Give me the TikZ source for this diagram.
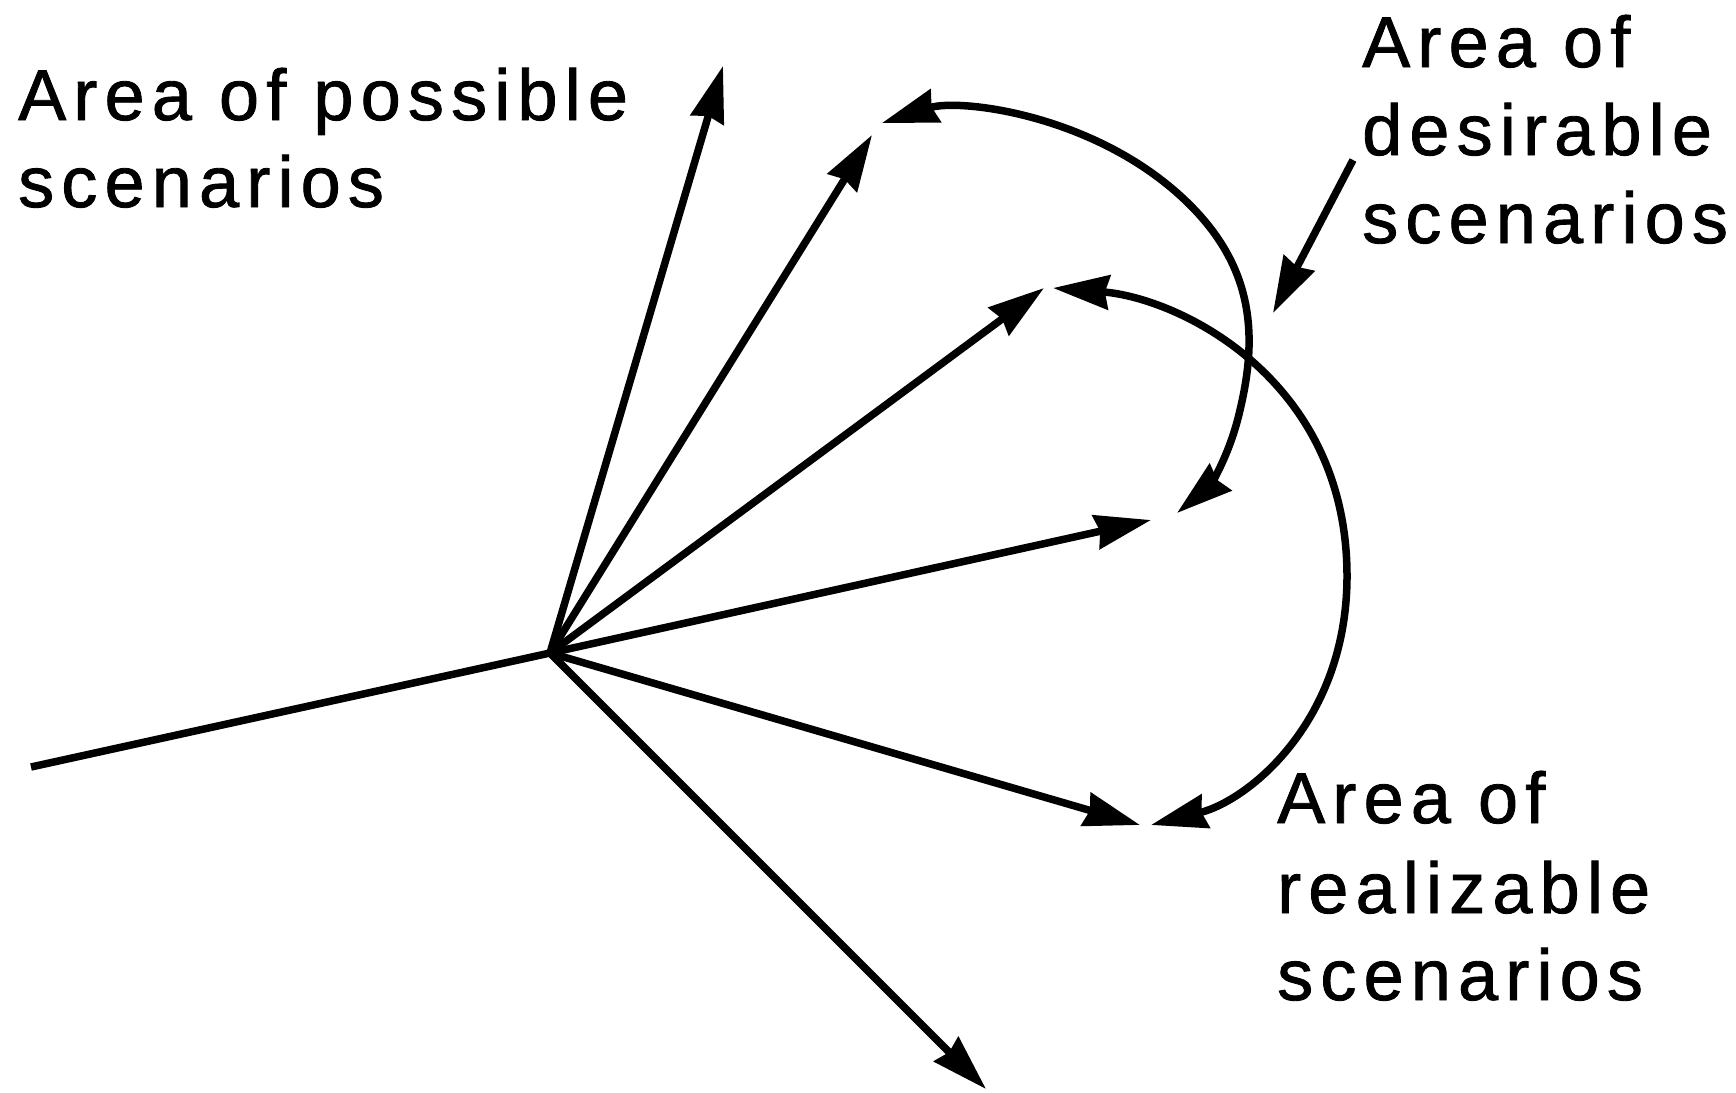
\documentclass[tikz,border=0pt]{standalone}
\usepackage{fontspec}
\newfontfamily\labfont[LetterSpace=10,FakeBold=1.2]{Liberation Sans}
\usetikzlibrary{arrows.meta}
\begin{document}
\begin{tikzpicture}[x=1pt,y=-1pt,
  ln/.style={line width=7.5pt},
  tip/.tip={Stealth[length=56pt,width=34pt,inset=4pt]},
  arr/.style={ln,-tip},
  darr/.style={ln,tip-tip},
  lab/.style={anchor=base west,inner sep=0pt,font=\labfont\fontsize{72}{87}\selectfont}]
\useasboundingbox (0,0) rectangle (1736,1092);
\coordinate (hub) at (550,653);
\coordinate (left) at (31,767);
\coordinate (ta) at (723,66);
\coordinate (tb) at (872,135);
\coordinate (tc) at (1044,288);
\coordinate (td) at (1151,520);
\coordinate (te) at (1140,825);
\coordinate (tf) at (986,1089);
\draw[ln] (left) -- (hub);
\foreach \t in {ta,tb,tc,td,te,tf} \draw[arr] (hub) -- (\t);
% desirable arc
\coordinate (d1) at (882,123);
\coordinate (d2) at (1177,513);
\draw[darr] (d1) .. controls (960,98) and (1100,115) .. (1190,205)
  .. controls (1253,268) and (1258,335) .. (1240,410)
  .. controls (1228,463) and (1205,490) .. (d2);
% realizable arc
\coordinate (r1) at (1053,288);
\coordinate (r2) at (1151,825);
\draw[darr] (r1) .. controls (1180,298) and (1347,380) .. (1347,576)
  .. controls (1347,720) and (1250,800) .. (r2);
% pointer
\coordinate (p0) at (1353,160);
\coordinate (p1) at (1273,313);
\draw[arr] (p0) -- (p1);
% labels
\node[lab] (pos1) at (18,120) {Area of possible};
\node[lab] (pos2) at (18,207) {scenarios};
\node[lab] (des1) at (1362,67) {Area of};
\node[lab] (des2) at (1362,155) {desirable};
\node[lab] (des3) at (1362,243) {scenarios};
\node[lab] (rea1) at (1277,823) {Area of};
\node[lab] (rea2) at (1277,913) {realizable};
\node[lab] (rea3) at (1277,1000) {scenarios};
\end{tikzpicture}
\end{document}
